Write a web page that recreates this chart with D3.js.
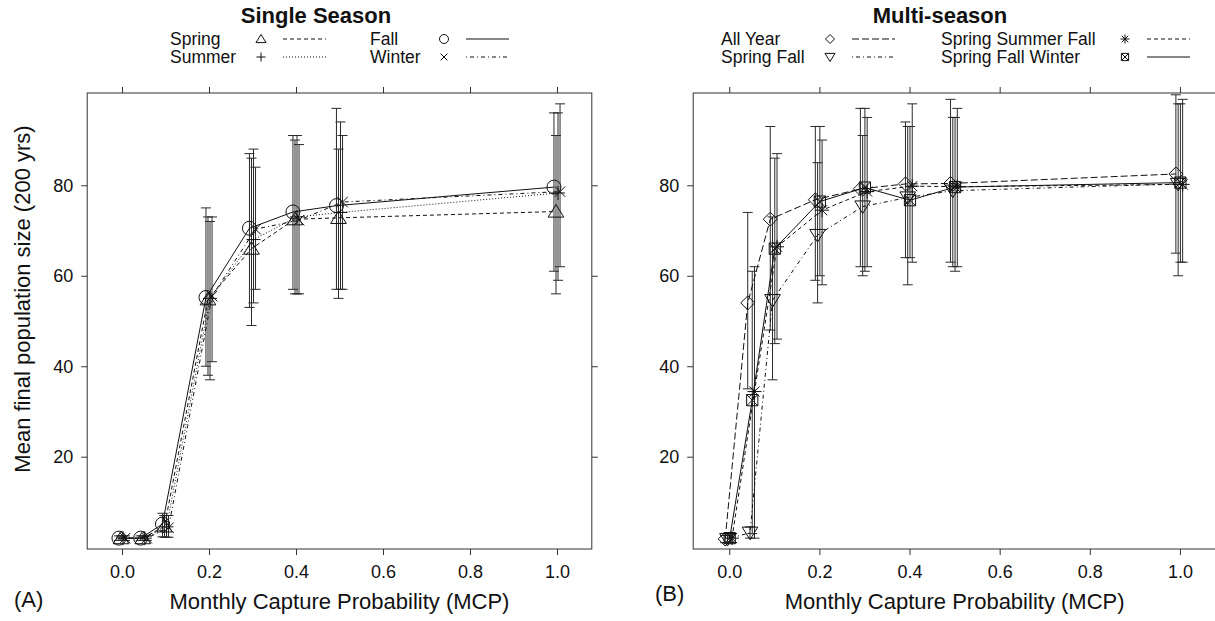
<!DOCTYPE html>
<html>
<head>
<meta charset="utf-8">
<script src="https://cdn.jsdelivr.net/npm/d3@7"></script>
<style>
  html, body { margin: 0; padding: 0; background: #fff; }
  svg { display: block; font-family: "Liberation Sans", Arial, Helvetica, sans-serif; }
</style>
</head>
<body>
<svg id="chart" width="1215" height="621"></svg>
<script>
// ---------- DATA ----------
const mcp = [0, 0.05, 0.1, 0.2, 0.3, 0.4, 0.5, 1.0];
const xTicks = [0, 0.2, 0.4, 0.6, 0.8, 1.0];
const yTicks = [20, 40, 60, 80];

// Panel A: single season
const springMean = [2, 2, 4.6, 54.8, 66.0, 72.5, 72.8, 74.2];
const springLo   = [1.5, 1.5, 2.2, 38, 49, 56, 55, 56];
const springHi   = [2.5, 2.5, 7.0, 73, 86, 90, 88, 91];
const summerMean = [2, 2, 4.5, 55.0, 68.0, 73.0, 74.0, 78.3];
const summerLo   = [1.5, 1.5, 2.2, 37, 54, 56, 57, 59];
const summerHi   = [2.5, 2.5, 7.0, 72, 88, 91, 94, 96];
const fallMean   = [2, 2, 5.1, 55.2, 70.5, 74.1, 75.5, 79.6];
const fallLo     = [1.5, 1.5, 2.3, 40, 53, 57, 57, 61];
const fallHi     = [2.5, 2.5, 7.5, 75, 87, 91, 97, 96];
const winterMean = [2, 2, 4.3, 55.5, 70.3, 72.3, 76.3, 78.6];
const winterLo   = [1.5, 1.5, 2.2, 41, 57, 56, 57, 62];
const winterHi   = [2.5, 2.5, 7.0, 73, 84, 89, 91, 98];

// Panel B: multi-season
const allYearMean = [1.8, 54.0, 72.5, 76.8, 79.2, 80.3, 80.4, 82.5];
const allYearLo   = [1, 35, 48, 59, 62, 64, 63, 65];
const allYearHi   = [2.6, 74, 93, 93, 97, 94, 99, 100];
const springFallMean = [1.8, 3.2, 54.6, 69.0, 75.3, 77.3, 78.8, 80.3];
const springFallLo   = [1, 2, 37, 54, 60, 58, 62, 60];
const springFallHi   = [2.6, 4.5, 73, 85, 91, 93, 95, 98];
const ssfMean = [2, 34.4, 66.4, 74.5, 78.6, 79.8, 79.7, 80.2];
const ssfLo   = [1, 2, 46, 58, 62, 63, 62, 63];
const ssfHi   = [3, 62, 87, 90, 95, 98, 97, 99];
const sfwMean = [2, 32.5, 66.0, 76.4, 79.5, 76.7, 79.6, 80.6];
const sfwLo   = [1, 3, 45, 60, 61, 64, 61, 63];
const sfwHi   = [3, 61, 86, 93, 97, 93, 95, 98];

// ---------- STYLES ----------
const seriesA = [
  {name: "Spring", mean: springMean, lo: springLo, hi: springHi, sym: "triangle", dash: "4,3"},
  {name: "Summer", mean: summerMean, lo: summerLo, hi: summerHi, sym: "plus", dash: "1,2"},
  {name: "Fall",   mean: fallMean,   lo: fallLo,   hi: fallHi,   sym: "circle", dash: null},
  {name: "Winter", mean: winterMean, lo: winterLo, hi: winterHi, sym: "cross", dash: "1,3,4,3"}
];
const seriesB = [
  {name: "All Year", mean: allYearMean, lo: allYearLo, hi: allYearHi, sym: "diamond", dash: "7,3"},
  {name: "Spring Fall", mean: springFallMean, lo: springFallLo, hi: springFallHi, sym: "tridown", dash: "1,3,4,3"},
  {name: "Spring Summer Fall", mean: ssfMean, lo: ssfLo, hi: ssfHi, sym: "asterisk", dash: "4,3"},
  {name: "Spring Fall Winter", mean: sfwMean, lo: sfwLo, hi: sfwHi, sym: "boxx", dash: null}
];

const svg = d3.select("#chart");
svg.append("rect").attr("width", 1215).attr("height", 621).attr("fill", "#fff");

function drawSymbol(g, type, cx, cy, s) {
  let el;
  const p = d3.path();
  if (type === "circle") {
    el = g.append("circle").attr("cx", cx).attr("cy", cy).attr("r", s);
  } else {
    if (type === "triangle") {
      p.moveTo(cx, cy - s); p.lineTo(cx + s * 1.12, cy + s * 0.8); p.lineTo(cx - s * 1.12, cy + s * 0.8); p.closePath();
    } else if (type === "tridown") {
      p.moveTo(cx, cy + s); p.lineTo(cx + s * 1.12, cy - s * 0.8); p.lineTo(cx - s * 1.12, cy - s * 0.8); p.closePath();
    } else if (type === "plus") {
      p.moveTo(cx - s, cy); p.lineTo(cx + s, cy); p.moveTo(cx, cy - s); p.lineTo(cx, cy + s);
    } else if (type === "cross") {
      const a = s * 0.75;
      p.moveTo(cx - a, cy - a); p.lineTo(cx + a, cy + a); p.moveTo(cx - a, cy + a); p.lineTo(cx + a, cy - a);
    } else if (type === "diamond") {
      p.moveTo(cx, cy - s); p.lineTo(cx + s, cy); p.lineTo(cx, cy + s); p.lineTo(cx - s, cy); p.closePath();
    } else if (type === "asterisk") {
      const a = s * 0.72;
      p.moveTo(cx - s, cy); p.lineTo(cx + s, cy); p.moveTo(cx, cy - s); p.lineTo(cx, cy + s);
      p.moveTo(cx - a, cy - a); p.lineTo(cx + a, cy + a); p.moveTo(cx - a, cy + a); p.lineTo(cx + a, cy - a);
    } else if (type === "boxx") {
      const a = s * 0.8;
      p.rect(cx - a, cy - a, 2 * a, 2 * a);
      p.moveTo(cx - a, cy - a); p.lineTo(cx + a, cy + a); p.moveTo(cx - a, cy + a); p.lineTo(cx + a, cy - a);
    }
    el = g.append("path").attr("d", p.toString());
  }
  el.attr("fill", "none").attr("stroke", "#111").attr("stroke-width", 1);
}

const yDomain = [-0.4, 100.4];
const yRange = [549, 93];

function drawPanel(opts) {
  const {x0, x1, series, order, dodgeRange, clipId} = opts;
  const x = d3.scaleLinear().domain([-0.08, 1.08]).range([x0, x1]);
  const y = d3.scaleLinear().domain(yDomain).range(yRange);
  const dodge = d3.scalePoint().domain(order).range(dodgeRange);
  const g = svg.append("g");

  svg.append("clipPath").attr("id", clipId).append("rect")
    .attr("x", x0).attr("y", yRange[1]).attr("width", x1 - x0).attr("height", yRange[0] - yRange[1]);

  const bottom = g.append("g").attr("transform", `translate(0,${yRange[0]})`)
    .call(d3.axisBottom(x).tickValues(xTicks).tickFormat(d3.format(".1f")).tickSize(6).tickPadding(10).tickSizeOuter(0));
  const top = g.append("g").attr("transform", `translate(0,${yRange[1]})`)
    .call(d3.axisTop(x).tickValues(xTicks).tickFormat("").tickSize(6).tickSizeOuter(0));
  const left = g.append("g").attr("transform", `translate(${x0},0)`)
    .call(d3.axisLeft(y).tickValues(yTicks).tickFormat(d3.format("d")).tickSize(6).tickPadding(8).tickSizeOuter(0));
  const right = g.append("g").attr("transform", `translate(${x1},0)`)
    .call(d3.axisRight(y).tickValues(yTicks).tickFormat("").tickSize(6).tickSizeOuter(0));
  [bottom, top, left, right].forEach(a => {
    a.select(".domain").remove();
    a.selectAll("line").attr("stroke", "#333");
    a.selectAll("text").attr("font-size", 18).attr("fill", "#111")
      .attr("font-family", '"Liberation Sans", Arial, sans-serif');
  });
  g.append("rect").attr("x", x0).attr("y", yRange[1]).attr("width", x1 - x0)
    .attr("height", yRange[0] - yRange[1]).attr("fill", "none").attr("stroke", "#333").attr("stroke-width", 1);

  const plot = g.append("g").attr("clip-path", `url(#${clipId})`);

  // error bars
  series.forEach(s => {
    const off = dodge(s.name);
    mcp.forEach((m, i) => {
      const cx = x(m + off);
      const eb = plot.append("g").attr("stroke", "#2a2a2a").attr("stroke-width", 1).attr("fill", "none");
      eb.append("line").attr("x1", cx).attr("x2", cx).attr("y1", y(s.lo[i])).attr("y2", y(s.hi[i]));
      eb.append("line").attr("x1", cx - 5).attr("x2", cx + 5).attr("y1", y(s.lo[i])).attr("y2", y(s.lo[i]));
      eb.append("line").attr("x1", cx - 5).attr("x2", cx + 5).attr("y1", y(s.hi[i])).attr("y2", y(s.hi[i]));
    });
  });

  // lines
  series.forEach(s => {
    const off = dodge(s.name);
    const line = d3.line().x((d, i) => x(mcp[i] + off)).y(d => y(d));
    const path = plot.append("path").attr("d", line(s.mean)).attr("fill", "none")
      .attr("stroke", "#111").attr("stroke-width", 1);
    if (s.dash) path.attr("stroke-dasharray", s.dash);
  });

  // points
  series.forEach(s => {
    const off = dodge(s.name);
    s.mean.forEach((v, i) => drawSymbol(plot, s.sym, x(mcp[i] + off), y(v), 7));
  });

  // x axis title centred on the data range of the panel
  g.append("text").attr("x", (x(0) + x(1)) / 2).attr("y", 609)
    .attr("text-anchor", "middle").attr("font-size", 22).attr("fill", "#111")
    .text("Monthly Capture Probability (MCP)");
}

drawPanel({x0: 87.2, x1: 591.8, series: seriesA, order: ["Fall", "Spring", "Summer", "Winter"],
  dodgeRange: [-0.007, 0.007], clipId: "clipA"});
drawPanel({x0: 693.2, x1: 1216, series: seriesB, order: ["All Year", "Spring Fall", "Spring Fall Winter", "Spring Summer Fall"],
  dodgeRange: [-0.009, 0.006], clipId: "clipB"});

// Y axis title
svg.append("text").attr("transform", "translate(30,299) rotate(-90)")
  .attr("text-anchor", "middle").attr("font-size", 22).attr("fill", "#111")
  .text("Mean final population size (200 yrs)");

// Panel letters
svg.append("text").attr("x", 14).attr("y", 607).attr("font-size", 22).attr("fill", "#111").text("(A)");
svg.append("text").attr("x", 655).attr("y", 601).attr("font-size", 22).attr("fill", "#111").text("(B)");

// Titles
svg.append("text").attr("x", 316).attr("y", 23).attr("text-anchor", "middle").attr("font-size", 22)
  .attr("font-weight", "bold").attr("fill", "#111").text("Single Season");
svg.append("text").attr("x", 940).attr("y", 23).attr("text-anchor", "middle").attr("font-size", 22)
  .attr("font-weight", "bold").attr("fill", "#111").text("Multi-season");

// Legends
function legend(series, cols) {
  series.forEach((s, i) => {
    const c = cols[Math.floor(i / 2)];
    const row = i % 2;
    const cy = 39 + row * 18;
    const lg = svg.append("g");
    lg.append("text").attr("x", c.textX).attr("y", cy + 6).attr("font-size", 17.5).attr("fill", "#111").text(s.name);
    drawSymbol(lg, s.sym, c.symX, cy, 4.5);
    const ln = lg.append("line").attr("x1", c.symX + 22).attr("x2", c.symX + 65)
      .attr("y1", cy).attr("y2", cy).attr("stroke", "#111").attr("stroke-width", 1);
    if (s.dash) ln.attr("stroke-dasharray", s.dash);
  });
}
legend(seriesA, [{textX: 170, symX: 261}, {textX: 370, symX: 444}]);
legend(seriesB, [{textX: 721, symX: 830}, {textX: 941, symX: 1125}]);
</script>
</body>
</html>
